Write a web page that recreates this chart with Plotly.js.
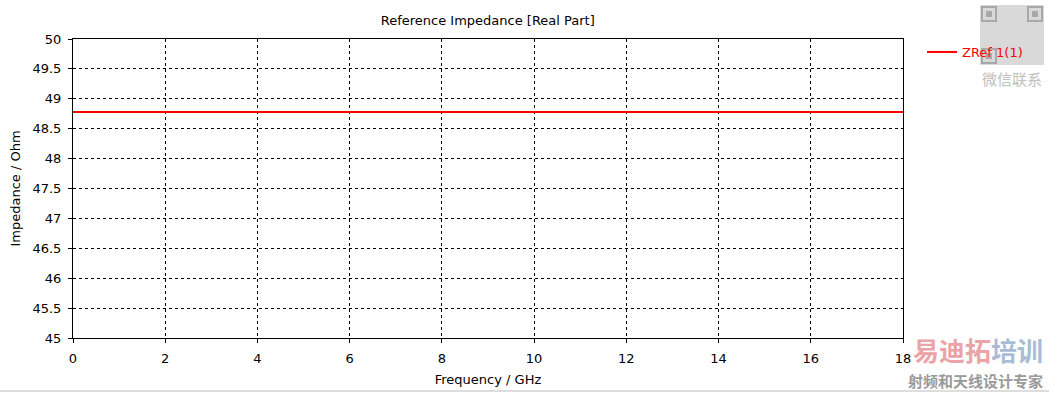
<!DOCTYPE html>
<html>
<head>
<meta charset="utf-8">
<script src="https://cdn.plot.ly/plotly-3.0.1.min.js"></script>
<style>html,body{margin:0;padding:0;background:#fff;}#chart{width:1049px;height:393px;}</style>
</head>
<body>
<div id="chart"></div>
<script>
var frequencyGHz = [0, 2, 4, 6, 8, 10, 12, 14, 16, 18];
var zrefReal = [48.78, 48.78, 48.78, 48.78, 48.78, 48.78, 48.78, 48.78, 48.78, 48.78];
var seriesName = "ZRef 1(1)";
var xTicks = [0, 2, 4, 6, 8, 10, 12, 14, 16, 18];
var yTicks = [45, 45.5, 46, 46.5, 47, 47.5, 48, 48.5, 49, 49.5, 50];

var font = "DejaVu Sans, Tahoma, sans-serif";
var trace = {
  x: frequencyGHz, y: zrefReal, name: seriesName, type: "scatter", mode: "lines",
  line: {color: "#ff0000", width: 2}, showlegend: true
};
var axisCommon = {
  showline: true, linecolor: "#000", linewidth: 1, mirror: true,
  ticks: "outside", ticklen: 4, tickcolor: "#000",
  showgrid: true, gridcolor: "#000", griddash: "3px,3px", gridwidth: 1,
  zeroline: false, tickfont: {family: font, size: 13, color: "#000"}, ticklabelstandoff: 4
};
// paper-coordinate helpers (pixel -> paper) for decoration placement
function px(x) { return (x - 73) / 830; }
function py(y) { return (338 - y) / 299; }
var qrShapes = [
  {type: "rect", xref: "paper", yref: "paper", x0: px(980), x1: px(1044), y0: py(65), y1: py(5), fillcolor: "#d9d9d9", line: {width: 0}, layer: "below"},
  {type: "rect", xref: "paper", yref: "paper", x0: px(982), x1: px(996), y0: py(21), y1: py(7), fillcolor: "rgba(0,0,0,0)", line: {color: "#a8a8a8", width: 2}, layer: "below"},
  {type: "rect", xref: "paper", yref: "paper", x0: px(1028), x1: px(1042), y0: py(21), y1: py(7), fillcolor: "rgba(0,0,0,0)", line: {color: "#a8a8a8", width: 2}, layer: "below"},
  {type: "rect", xref: "paper", yref: "paper", x0: px(982), x1: px(996), y0: py(63), y1: py(49), fillcolor: "rgba(0,0,0,0)", line: {color: "#a8a8a8", width: 2}, layer: "below"},
  {type: "rect", xref: "paper", yref: "paper", x0: px(986), x1: px(992), y0: py(17), y1: py(11), fillcolor: "#a8a8a8", line: {width: 0}, layer: "below"},
  {type: "rect", xref: "paper", yref: "paper", x0: px(1032), x1: px(1038), y0: py(17), y1: py(11), fillcolor: "#a8a8a8", line: {width: 0}, layer: "below"},
  {type: "rect", xref: "paper", yref: "paper", x0: px(986), x1: px(992), y0: py(59), y1: py(53), fillcolor: "#a8a8a8", line: {width: 0}, layer: "below"}
];
var layout = {
  width: 1049, height: 393,
  margin: {l: 73, r: 146, t: 39, b: 55},
  paper_bgcolor: "#fff", plot_bgcolor: "#fff",
  font: {family: font, size: 13, color: "#000"},
  title: {text: "Reference Impedance [Real Part]", font: {family: font, size: 13, color: "#000"}, x: 0.465, xanchor: "center", y: 0.948, yanchor: "middle"},
  xaxis: Object.assign({}, axisCommon, {range: [0, 18], tickvals: xTicks, ticktext: xTicks.map(String),
    title: {text: "Frequency / GHz", font: {family: font, size: 13, color: "#000"}, standoff: 10}}),
  yaxis: Object.assign({}, axisCommon, {range: [45, 50], tickvals: yTicks, ticktext: yTicks.map(String),
    title: {text: "Impedance / Ohm", font: {family: font, size: 13, color: "#000"}, standoff: 8}}),
  showlegend: true,
  legend: {x: px(922), xanchor: "left", y: py(37), yanchor: "top", font: {family: font, size: 13, color: "#ff0000"}, bgcolor: "rgba(0,0,0,0)", itemwidth: 30},
  shapes: [
    {type: "line", xref: "paper", yref: "paper", x0: px(0), x1: px(1049), y0: py(391), y1: py(391), line: {color: "#dddddd", width: 2}}
  ].concat(qrShapes),
  annotations: [
    {text: "微信联系", xref: "paper", yref: "paper", x: px(1012), y: py(78), xanchor: "center", yanchor: "middle", showarrow: false,
     font: {family: "Noto Sans CJK SC", size: 15, color: "#c0c0c0"}},
    {text: "<b><span style='color:#eba3a7'>易迪拓</span><span style='color:#a9bcd6'>培训</span></b>", xref: "paper", yref: "paper", x: px(1045), y: py(349), xanchor: "right", yanchor: "middle", showarrow: false,
     font: {family: "Noto Sans CJK SC", size: 26, color: "#eba3a7"}},
    {text: "<b>射频和天线设计专家</b>", xref: "paper", yref: "paper", x: px(1045), y: py(380), xanchor: "right", yanchor: "middle", showarrow: false,
     font: {family: "Noto Sans CJK SC", size: 15, color: "#9a9a9a"}}
  ]
};
Plotly.newPlot("chart", [trace], layout, {displayModeBar: false, staticPlot: true});
</script>
</body>
</html>
